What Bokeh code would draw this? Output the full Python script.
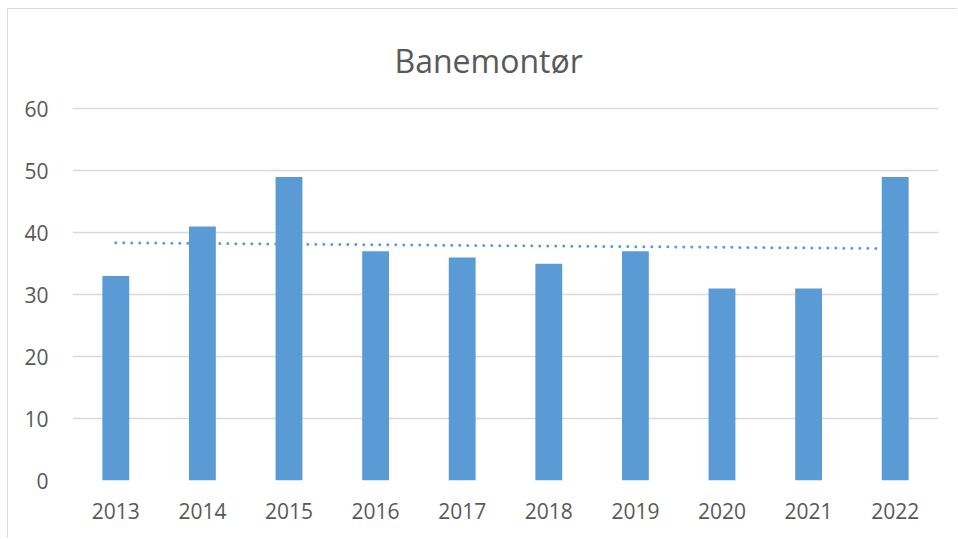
import numpy as np
from bokeh.plotting import figure
from bokeh.models import ColumnDataSource, FixedTicker, Range1d
from bokeh.embed import file_html
from bokeh.resources import INLINE

title_text = "Banemontør"
years = ["2013", "2014", "2015", "2016", "2017", "2018", "2019", "2020", "2021", "2022"]
counts = [33, 41, 49, 37, 36, 35, 37, 31, 31, 49]
y_ticks = [0, 10, 20, 30, 40, 50, 60]

BAR = "#5B9BD5"
TXT = "#595959"
GRID = "#D9D9D9"
FONT = "Open Sans"

p = figure(
    x_range=years, y_range=Range1d(0, 60.2),
    width=950, height=530,
    output_backend="svg", toolbar_location=None,
    min_border_left=64, min_border_right=20,
    min_border_top=98, min_border_bottom=59,
)
p.styles = {"margin-left": "7px", "margin-top": "8px",
            "border-left": "1px solid #D9D9D9", "border-top": "1px solid #D9D9D9"}
p.outline_line_color = None

p.title.text = title_text
p.title.text_font = FONT
p.title.text_font_size = "32px"
p.title.text_font_style = "normal"
p.title.text_color = TXT
p.title.align = "left"
p.title.offset = 322
p.title.standoff = 52

# linear trend line (fit of the data) drawn behind the bars
idx = np.arange(len(counts))
slope, intercept = np.polyfit(idx, counts, 1)
trend = ColumnDataSource(dict(x=[years[0], years[-1]],
                              y=[intercept, intercept + slope * idx[-1]]))
p.line("x", "y", source=trend, line_color=BAR, line_width=3,
       line_dash="0 8", line_cap="round")

src = ColumnDataSource(dict(x=years, y=counts))
p.vbar(x="x", top="y", width=0.31, source=src, fill_color=BAR, line_color=None)

p.yaxis.ticker = FixedTicker(ticks=y_ticks)
p.xgrid.grid_line_color = None
p.ygrid.grid_line_color = GRID
p.ygrid.grid_line_width = 1.5

for ax in (p.xaxis, p.yaxis):
    ax.axis_line_color = None
    ax.major_tick_line_color = None
    ax.minor_tick_line_color = None
    ax.major_label_text_font = FONT
    ax.major_label_text_font_size = "21px"
    ax.major_label_text_color = TXT
p.yaxis.major_label_standoff = 18
p.xaxis.major_label_standoff = 16

open("out.html", "w").write(file_html(p, INLINE))
